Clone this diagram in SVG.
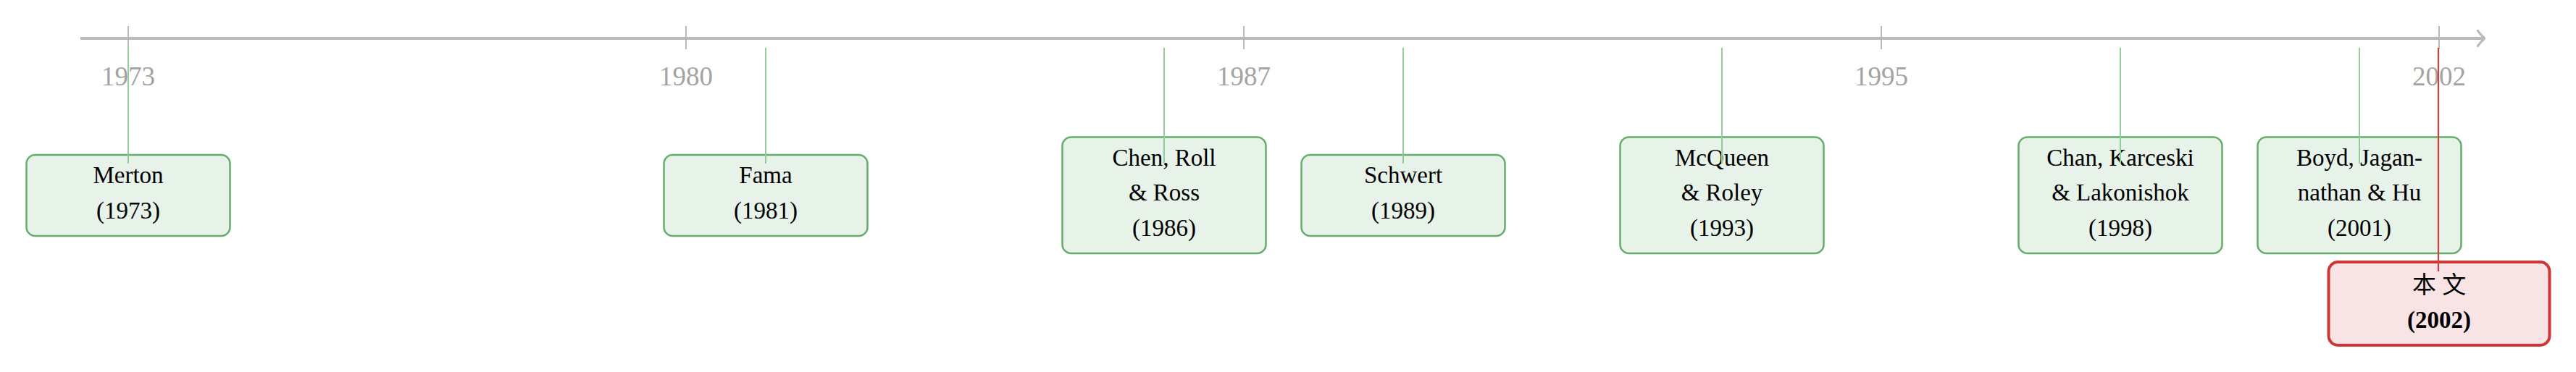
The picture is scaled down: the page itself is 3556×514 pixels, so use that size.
<svg xmlns="http://www.w3.org/2000/svg" width="3556" height="514" viewBox="0 0 3556 514">
  <defs>
    <style>
      .bg { fill: #ffffff; }
      .axis { stroke: #b9b9b9; stroke-width: 4; fill: none; }
      .tick { stroke: #b9b9b9; stroke-width: 2; }
      .year { font-family: "Liberation Serif", "DejaVu Serif", serif; font-size: 37px; fill: #a3a3a3; text-anchor: middle; }
      .box { fill: #e7f2e8; stroke: #66ad6e; stroke-width: 2.5; }
      .rbox { fill: #f8e4e5; stroke: #cf3535; stroke-width: 4; }
      .lbl { font-family: "Liberation Serif", "DejaVu Serif", "Noto Sans CJK SC", serif; font-size: 33px; fill: #000000; text-anchor: middle; }
      .bold { font-weight: bold; }
      .gline { stroke: #92cb9c; stroke-width: 2; }
      .rline { stroke: #d04040; stroke-width: 2.2; }
    </style>
    <marker id="arrow" viewBox="0 0 12 24" refX="11" refY="12" markerWidth="12" markerHeight="24" markerUnits="userSpaceOnUse" orient="auto">
      <path d="M1,1 Q6,8 11,12 Q6,16 1,23" fill="none" stroke="#b9b9b9" stroke-width="3.2" stroke-linecap="round"/>
    </marker>
  </defs>
  <rect class="bg" x="0" y="0" width="3556" height="514"/>

  <g id="timeline-axis">
    <line class="axis" x1="111" y1="53" x2="3430" y2="53" marker-end="url(#arrow)"/>
    <line class="tick" x1="177" y1="36" x2="177" y2="68"/>
    <line class="tick" x1="947" y1="36" x2="947" y2="68"/>
    <line class="tick" x1="1717" y1="36" x2="1717" y2="68"/>
    <line class="tick" x1="2597" y1="36" x2="2597" y2="68"/>
    <line class="tick" x1="3367" y1="36" x2="3367" y2="68"/>
    <text class="year" x="177" y="118">1973</text>
    <text class="year" x="947" y="118">1980</text>
    <text class="year" x="1717" y="118">1987</text>
    <text class="year" x="2597" y="118">1995</text>
    <text class="year" x="3367" y="118">2002</text>
  </g>

  <g id="merton">
    <rect class="box" x="36.5" y="214" width="281" height="112" rx="12"/>
    <text class="lbl" x="177" y="253">Merton</text>
    <text class="lbl" x="177" y="301.5">(1973)</text>
  </g>

  <g id="fama">
    <rect class="box" x="916.5" y="214" width="281" height="112" rx="12"/>
    <text class="lbl" x="1057" y="253">Fama</text>
    <text class="lbl" x="1057" y="301.5">(1981)</text>
  </g>

  <g id="chen-roll-ross">
    <rect class="box" x="1466.5" y="189.5" width="281" height="160.5" rx="12"/>
    <text class="lbl" x="1607" y="228.5">Chen, Roll</text>
    <text class="lbl" x="1607" y="277">&amp; Ross</text>
    <text class="lbl" x="1607" y="325.5">(1986)</text>
  </g>

  <g id="schwert">
    <rect class="box" x="1796.5" y="214" width="281" height="112" rx="12"/>
    <text class="lbl" x="1937" y="253">Schwert</text>
    <text class="lbl" x="1937" y="301.5">(1989)</text>
  </g>

  <g id="mcqueen-roley">
    <rect class="box" x="2236.5" y="189.5" width="281" height="160.5" rx="12"/>
    <text class="lbl" x="2377" y="228.5">McQueen</text>
    <text class="lbl" x="2377" y="277">&amp; Roley</text>
    <text class="lbl" x="2377" y="325.5">(1993)</text>
  </g>

  <g id="chan-karceski-lakonishok">
    <rect class="box" x="2786.5" y="189.5" width="281" height="160.5" rx="12"/>
    <text class="lbl" x="2927" y="228.5">Chan, Karceski</text>
    <text class="lbl" x="2927" y="277">&amp; Lakonishok</text>
    <text class="lbl" x="2927" y="325.5">(1998)</text>
  </g>

  <g id="boyd-jagannathan-hu">
    <rect class="box" x="3116.5" y="189.5" width="281" height="160.5" rx="12"/>
    <text class="lbl" x="3257" y="228.5">Boyd, Jagan-</text>
    <text class="lbl" x="3257" y="277">nathan &amp; Hu</text>
    <text class="lbl" x="3257" y="325.5">(2001)</text>
  </g>

  <g id="this-paper">
    <rect class="rbox" x="3214.5" y="362" width="305" height="115" rx="13"/>
    <text class="lbl" x="3367" y="405">本 文</text>
    <text class="lbl bold" x="3367" y="453">(2002)</text>
  </g>

  <g id="connectors">
    <line class="gline" x1="177" y1="66" x2="177" y2="226"/>
    <line class="gline" x1="1057" y1="66" x2="1057" y2="226"/>
    <line class="gline" x1="1607" y1="66" x2="1607" y2="226"/>
    <line class="gline" x1="1937" y1="66" x2="1937" y2="226"/>
    <line class="gline" x1="2377" y1="66" x2="2377" y2="226"/>
    <line class="gline" x1="2927" y1="66" x2="2927" y2="226"/>
    <line class="gline" x1="3257" y1="66" x2="3257" y2="226"/>
    <line class="rline" x1="3366" y1="66" x2="3366" y2="375"/>
  </g>
</svg>
